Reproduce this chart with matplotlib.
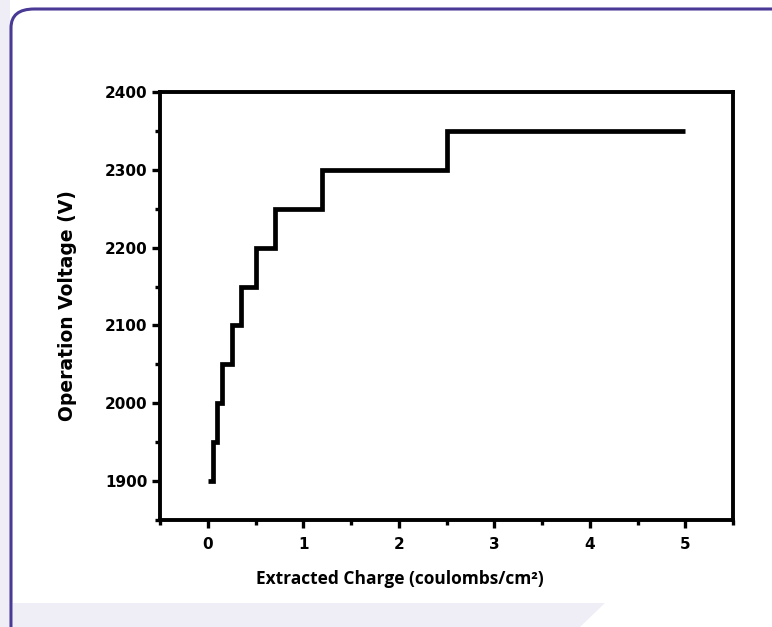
import matplotlib
matplotlib.use("Agg")
import matplotlib.pyplot as plt
from matplotlib.patches import FancyBboxPatch, Rectangle, Polygon
from matplotlib.ticker import MultipleLocator

# step data: charge where each voltage level starts, and the voltage
charge = [0, 0.05, 0.1, 0.15, 0.25, 0.35, 0.5, 0.7, 1.2, 2.5, 5]
voltage = [1900, 1950, 2000, 2050, 2100, 2150, 2200, 2250, 2300, 2350, 2350]

x_ticks = [0, 1, 2, 3, 4, 5]
y_ticks = [1900, 2000, 2100, 2200, 2300, 2400]

plt.rcParams['font.family'] = ['Open Sans', 'DejaVu Sans']

W, H = 772, 627
fig = plt.figure(figsize=(W / 100, H / 100), dpi=100)
fig.patch.set_facecolor('white')

# page decorations around the chart card
lav = '#efeef6'
fig.patches.append(Rectangle((0, 0), 10 / W, 1, transform=fig.transFigure,
                             facecolor=lav, edgecolor='none', zorder=0))
card = FancyBboxPatch((11 / W, -40 / H), 800 / W, (H - 9 + 40) / H,
                      boxstyle="round,pad=0,rounding_size=0.03",
                      transform=fig.transFigure, facecolor='white',
                      edgecolor='#4a3a96', linewidth=2.2, zorder=1)
fig.patches.append(card)
fig.patches.append(Polygon([(13 / W, 0), (13 / W, 24 / H), (605 / W, 24 / H), (580 / W, 0)],
                           closed=True, transform=fig.transFigure,
                           facecolor=lav, edgecolor='none', zorder=2))

ax = fig.add_axes([160 / W, 1 - 520 / H, 573 / W, 428 / H])
ax.set_zorder(3)

ax.step(charge, voltage, where='post', color='black', linewidth=3.4,
        solid_joinstyle='miter', solid_capstyle='butt')

ax.set_xlim(-0.5, 5.5)
ax.set_ylim(1850, 2400)
ax.set_xticks(x_ticks)
ax.set_yticks(y_ticks)
ax.xaxis.set_minor_locator(MultipleLocator(0.5))
ax.yaxis.set_minor_locator(MultipleLocator(50))

for s in ax.spines.values():
    s.set_linewidth(2.8)

ax.tick_params(which='major', direction='out', length=6, width=2.4)
ax.tick_params(which='minor', direction='out', length=3.5, width=2.4)
ax.tick_params(axis='x', which='major', pad=6)
ax.tick_params(axis='y', which='major', pad=3)
for lab in ax.get_xticklabels() + ax.get_yticklabels():
    lab.set_fontweight('bold')
    lab.set_fontsize(11)
    lab.set_family('DejaVu Sans')

ax.set_xlabel('Extracted Charge (coulombs/cm²)', fontsize=12.5, fontweight='bold')
ax.xaxis.set_label_coords((400 - 160) / 573, (520 - 570) / 428)
ax.set_ylabel('Operation Voltage (V)', fontsize=13.5, fontweight='bold',
              family='DejaVu Sans')
ax.yaxis.set_label_coords((77 - 160) / 573, 0.5)

fig.savefig('out.png', dpi=100)
